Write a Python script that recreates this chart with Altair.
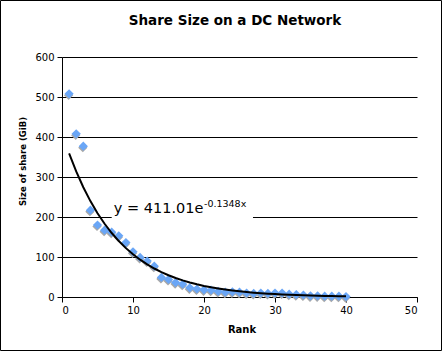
import altair as alt
import pandas as pd

rank = list(range(1, 41))
share_gib = [508, 408, 377, 217, 180, 167, 162, 153, 136, 113,
             99, 90, 77, 49, 44, 36, 32, 23, 20, 18,
             17, 14, 12, 13, 12, 10, 9, 10, 9, 10,
             10, 7, 6, 5, 3, 3, 2, 2, 2, 1]
fit_a = 411.01
fit_b = -0.1348
title_text = "Share Size on a DC Network"
x_title = "Rank"
y_title = "Size of share (GiB)"
x_ticks = [0, 10, 20, 30, 40, 50]
y_ticks = [0, 100, 200, 300, 400, 500, 600]

df = pd.DataFrame({"rank": rank, "size": share_gib})

W, H = 355, 240
PL, PT = 62, 57
TOTAL_W, TOTAL_H = 442, 351
FONT = "DejaVu Sans"

xs = alt.Scale(domain=[0, 50], nice=False)
ys = alt.Scale(domain=[0, 600], nice=False)

x_axis = alt.Axis(values=x_ticks, tickCount=20, grid=False, tickSize=5, labelPadding=3,
                  titleX=W / 2 + 2, titleY=35, titleBaseline="alphabetic",
                  titleFontSize=10)
y_axis = alt.Axis(values=y_ticks, tickCount=20, grid=True, gridColor="black", gridOpacity=1,
                  gridWidth=1, tickSize=5, labelPadding=3, labelOverlap=False,
                  titleX=-39.5, titleY=104, titleBaseline="middle", titleFontSize=8.5)

def xe(field):
    return alt.X(field, scale=xs, title=x_title, axis=x_axis)

def ye(field):
    return alt.Y(field, scale=ys, title=y_title, axis=y_axis)

base = alt.Chart(df)

shadow = base.mark_point(shape="diamond", filled=True, size=85, color="#a8a8a8",
                         opacity=1, xOffset=-0.5, yOffset=1.5).encode(
    x=xe("rank:Q"), y=ye("size:Q"))
points = base.mark_point(shape="diamond", filled=True, size=85, color="#6aa6f6",
                         opacity=1).encode(x=xe("rank:Q"), y=ye("size:Q"))

trend = base.transform_calculate(
    fit=f"{fit_a} * exp({fit_b} * datum.rank)"
).mark_line(color="black", strokeWidth=2).encode(x=xe("rank:Q"), y=ye("fit:Q"))

one = pd.DataFrame({"a": [0]})

label_box = alt.Chart(one).mark_rect(fill="white").encode(
    x=alt.datum(7.0), x2=alt.datum(26.9), y=alt.datum(252), y2=alt.datum(185))

label_main = alt.Chart(one).mark_text(
    text="y = 411.01e", font=FONT, fontSize=14.5, align="left", baseline="alphabetic",
    color="black").encode(x=alt.datum(7.3), y=alt.datum(210))
label_sup = alt.Chart(one).mark_text(
    text="-0.1348x", font=FONT, fontSize=9.5, align="left", baseline="alphabetic",
    color="black").encode(x=alt.datum(20.0), y=alt.datum(226))

frame = alt.Chart(one).mark_rect(
    fill=None, stroke="black", strokeWidth=1).encode(
    x=alt.value(-PL + 0.5), x2=alt.value(TOTAL_W - PL - 0.5),
    y=alt.value(-PT + 0.5), y2=alt.value(TOTAL_H - PT - 0.5))

title = alt.Chart(one).mark_text(
    text=title_text, font=FONT, fontSize=13.5, fontWeight="bold", align="center",
    baseline="alphabetic", color="black").encode(
    x=alt.value(235 - PL), y=alt.value(25 - PT))

chart = alt.layer(shadow, points, trend, label_box, label_main, label_sup, frame, title).properties(
    width=W, height=H,
    autosize=alt.AutoSizeParams(type="none"),
    padding={"left": PL, "top": PT, "right": TOTAL_W - PL - W, "bottom": TOTAL_H - PT - H},
    background="white",
).configure_view(stroke=None).configure_axis(
    labelFont=FONT, labelFontSize=10, labelColor="black",
    titleFont=FONT, titleFontWeight="bold", titleColor="black",
    domainColor="black", tickColor="black", domainWidth=1, tickWidth=1,
)

chart.save("out.html", embed_options={"renderer": "svg", "actions": False})
